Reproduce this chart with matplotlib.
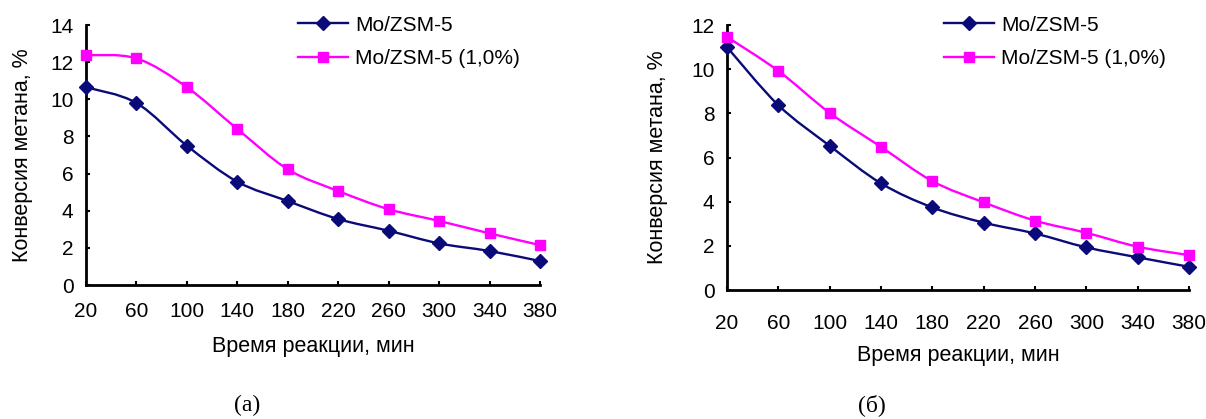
import numpy as np
import matplotlib
matplotlib.use("Agg")
import matplotlib.pyplot as plt
from matplotlib.path import Path
from matplotlib.patches import PathPatch

plt.rcParams['font.family'] = ['Liberation Sans', 'DejaVu Sans']

# reaction time, min
time_min = [20, 60, 100, 140, 180, 220, 260, 300, 340, 380]

# panel (a)
conv_a_mo = [10.65, 9.8, 7.5, 5.56, 4.52, 3.55, 2.92, 2.24, 1.83, 1.29]
conv_a_mo10 = [12.38, 12.2, 10.65, 8.4, 6.23, 5.06, 4.08, 3.45, 2.78, 2.15]

# panel (б)
conv_b_mo = [11.0, 8.37, 6.53, 4.83, 3.74, 3.05, 2.56, 1.93, 1.48, 1.05]
conv_b_mo10 = [11.46, 9.92, 8.02, 6.48, 4.93, 3.97, 3.14, 2.59, 1.96, 1.58]

series_names = ['Mo/ZSM-5', 'Mo/ZSM-5 (1,0%)']
dark = '#0a0a78'
pink = '#ff00ff'


def smooth_path(x, y):
    # Catmull-Rom through the points, drawn as cubic Bezier segments
    pts = np.column_stack([x, y]).astype(float)
    verts = [pts[0]]
    codes = [Path.MOVETO]
    n = len(pts)
    for i in range(n - 1):
        p0 = pts[i - 1] if i > 0 else pts[i]
        p1 = pts[i]
        p2 = pts[i + 1]
        p3 = pts[i + 2] if i + 2 < n else pts[i + 1]
        c1 = p1 + (p2 - p0) / 6.0
        c2 = p2 - (p3 - p1) / 6.0
        verts += [c1, c2, p2]
        codes += [Path.CURVE4] * 3
    return Path(verts, codes)


def draw_panel(ax, y1, y2, ymax, tick_pad, xlabel_pad, ylabel_x):
    for y, col, mk, ms, name in [(y1, dark, 'D', 7.5, series_names[0]),
                                 (y2, pink, 's', 7.5, series_names[1])]:
        ax.add_patch(PathPatch(smooth_path(time_min, y), fill=False,
                               edgecolor=col, lw=1.7, clip_on=False))
        ax.plot(time_min, y, ls='none', marker=mk, ms=ms, color=col,
                clip_on=False, zorder=3)
        ax.plot([], [], color=col, lw=1.7, marker=mk, ms=ms, label=name)
    ax.set_xlim(20, 380)
    ax.set_ylim(0, ymax)
    ax.set_xticks(time_min)
    ax.set_xticklabels([str(t) for t in time_min], fontsize=15)
    ax.set_yticks(np.arange(0, ymax + 1, 2))
    for s in ['top', 'right']:
        ax.spines[s].set_visible(False)
    for s in ['left', 'bottom']:
        ax.spines[s].set_linewidth(2)
    ax.tick_params(axis='x', direction='in', length=3, width=1.5, pad=tick_pad)
    ax.tick_params(axis='y', direction='in', length=3, width=1.5, labelsize=15, pad=9)
    ax.set_ylabel('Конверсия метана, %', fontsize=15.5, va='center')
    ax.yaxis.set_label_coords(ylabel_x, 0.5)
    ax.set_xlabel('Время реакции, мин', fontsize=15.5, labelpad=xlabel_pad)


fig = plt.figure(figsize=(12.06, 4.19), dpi=100)
ax1 = fig.add_axes([86 / 1206, 134 / 419, 454 / 1206, 260 / 419])
ax2 = fig.add_axes([727 / 1206, 129 / 419, 462 / 1206, 265 / 419])

draw_panel(ax1, conv_a_mo, conv_a_mo10, 14, 12, 11, -0.14)
draw_panel(ax2, conv_b_mo, conv_b_mo10, 12, 17, 9, -0.15)

for ax, x0 in [(ax1, 279), (ax2, 925)]:
    ax.legend(loc='upper left', bbox_to_anchor=(x0 / 1206, 1 + 3 / 419),
              bbox_transform=fig.transFigure, frameon=False, fontsize=15,
              handlelength=2.4, handletextpad=0.35, labelspacing=0.69)

fig.text(247 / 1206, 1 - 405 / 419, '(a)', family='Liberation Serif',
         fontsize=17, ha='center', va='center')
fig.text(872 / 1206, 1 - 405 / 419, '(б)', family='Liberation Serif',
         fontsize=17, ha='center', va='center')

fig.savefig('out.png', dpi=100)
